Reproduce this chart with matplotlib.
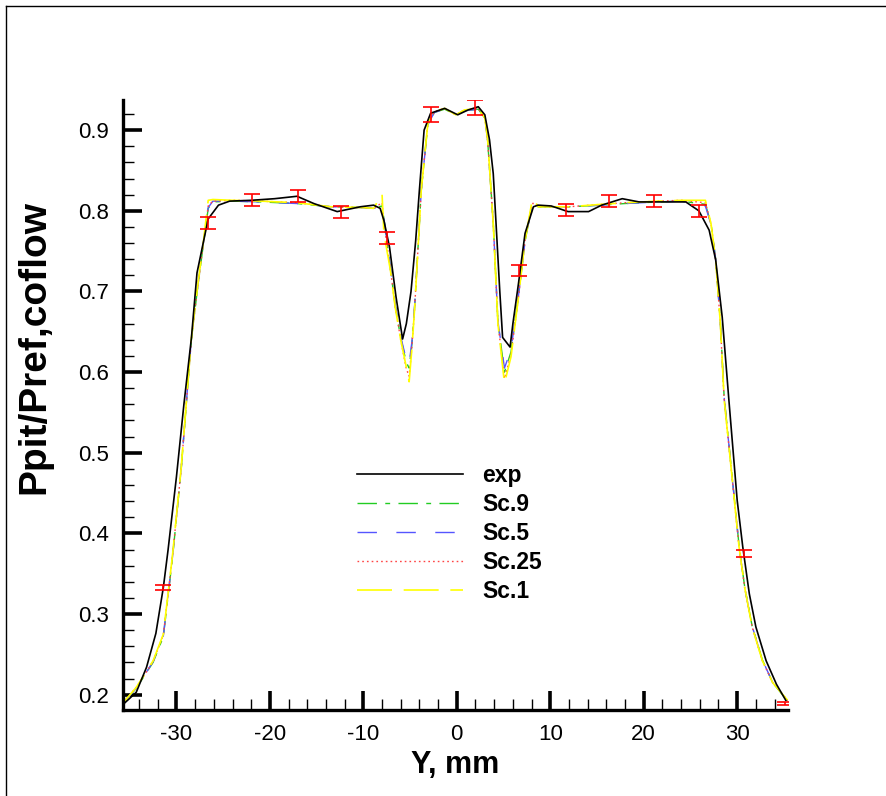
#! /usr/bin/env python3
import matplotlib
matplotlib.use('Agg')
import matplotlib.pyplot as plt
from matplotlib.lines import Line2D
from matplotlib.ticker import MultipleLocator, FormatStrFormatter

# experimental profile (smooth line)
x_exp = [-35.7, -34.3, -33.2, -32.2, -31.4, -30.9, -30.0, -29.2, -28.4, -27.8,
         -26.6, -25.5, -24.3, -22.0, -19.5, -17.1, -15.3, -12.8, -10.3, -8.9,
         -8.2, -7.8, -7.2, -6.5, -5.8, -5.4, -4.9, -4.4, -4.0, -3.5,
         -2.8, -1.3, 0.1, 1.2, 2.3, 3.0, 3.5, 3.9, 4.2, 4.6,
         4.9, 5.7, 6.0, 6.6, 7.3, 8.2, 8.7, 10.1, 11.9, 14.1,
         15.5, 17.7, 19.5, 21.6, 24.5, 25.9, 27.0, 27.7, 28.4, 29.1,
         30.0, 30.6, 31.3, 32.0, 33.1, 34.2, 35.2]
p_exp = [0.188, 0.203, 0.234, 0.276, 0.333, 0.379, 0.470, 0.560, 0.642, 0.723,
         0.790, 0.807, 0.812, 0.813, 0.815, 0.818, 0.809, 0.799, 0.805, 0.807,
         0.803, 0.788, 0.755, 0.693, 0.641, 0.660, 0.700, 0.763, 0.826, 0.900,
         0.921, 0.927, 0.919, 0.925, 0.929, 0.919, 0.888, 0.846, 0.784, 0.700,
         0.643, 0.631, 0.660, 0.710, 0.772, 0.805, 0.807, 0.806, 0.799, 0.799,
         0.807, 0.815, 0.811, 0.811, 0.811, 0.800, 0.776, 0.739, 0.668, 0.567,
         0.441, 0.383, 0.325, 0.284, 0.242, 0.213, 0.193]

# experimental points with error bars
x_err = [-31.4, -26.6, -21.9, -17.0, -12.4, -7.5, -2.8, 2.0, 6.7, 11.7,
         16.3, 21.1, 25.9, 30.7, 35.1]
p_err = [0.333, 0.785, 0.813, 0.818, 0.799, 0.766, 0.919, 0.928, 0.726, 0.801,
         0.812, 0.812, 0.800, 0.375, 0.189]
e_err = [0.003, 0.0072, 0.0075, 0.0077, 0.0075, 0.0077, 0.0093, 0.009, 0.0073, 0.0073,
         0.0077, 0.0077, 0.0073, 0.0042, 0.002]

# computed profiles
x_sim = [-35.7, -34.3, -32.5, -31.4, -30.9, -30.4, -29.5, -28.4, -27.8, -27.1,
         -26.6, -26.1, -24.0, -21.0, -17.1, -13.5, -10.0, -8.9, -8.0, -7.8,
         -7.1, -6.6, -6.0, -5.4, -5.1, -4.8, -4.5, -3.8, -3.1, -2.4,
         -1.3, -0.1, 0.8, 2.3, 3.0, 3.3, 3.9, 4.4, 5.1, 5.8,
         6.6, 7.3, 8.0, 8.2, 8.7, 10.0, 12.0, 15.5, 18.0, 21.6,
         24.0, 26.6, 27.2, 27.7, 28.2, 28.6, 29.7, 30.2, 30.8, 31.6,
         32.7, 33.8, 35.4]
p_sc9 = [0.190, 0.208, 0.240, 0.272, 0.322, 0.372, 0.478, 0.640, 0.698, 0.760,
         0.803, 0.811, 0.812, 0.811, 0.809, 0.805, 0.804, 0.803, 0.806, 0.790,
         0.728, 0.683, 0.642, 0.612, 0.605, 0.635, 0.683, 0.826, 0.907, 0.922,
         0.926, 0.919, 0.924, 0.926, 0.915, 0.887, 0.785, 0.662, 0.600, 0.625,
         0.694, 0.762, 0.804, 0.808, 0.805, 0.805, 0.805, 0.807, 0.809, 0.811,
         0.812, 0.808, 0.784, 0.740, 0.662, 0.570, 0.443, 0.385, 0.334, 0.285,
         0.243, 0.215, 0.192]
p_sc5 = [0.190, 0.208, 0.241, 0.273, 0.323, 0.373, 0.479, 0.641, 0.699, 0.761,
         0.804, 0.812, 0.812, 0.811, 0.809, 0.805, 0.804, 0.803, 0.806, 0.791,
         0.729, 0.684, 0.644, 0.615, 0.610, 0.638, 0.685, 0.826, 0.907, 0.922,
         0.926, 0.919, 0.924, 0.926, 0.915, 0.887, 0.785, 0.663, 0.605, 0.628,
         0.695, 0.762, 0.804, 0.808, 0.805, 0.805, 0.805, 0.807, 0.809, 0.811,
         0.812, 0.806, 0.783, 0.739, 0.661, 0.569, 0.442, 0.384, 0.333, 0.285,
         0.243, 0.215, 0.192]
p_sc25 = [0.190, 0.209, 0.241, 0.274, 0.324, 0.374, 0.479, 0.641, 0.699, 0.762,
          0.806, 0.812, 0.813, 0.812, 0.810, 0.805, 0.804, 0.803, 0.810, 0.785,
          0.727, 0.682, 0.640, 0.604, 0.595, 0.632, 0.682, 0.826, 0.908, 0.923,
          0.927, 0.919, 0.925, 0.927, 0.915, 0.888, 0.784, 0.661, 0.592, 0.622,
          0.693, 0.763, 0.806, 0.810, 0.805, 0.805, 0.805, 0.808, 0.810, 0.812,
          0.813, 0.810, 0.784, 0.739, 0.660, 0.567, 0.441, 0.383, 0.333, 0.284,
          0.242, 0.215, 0.193]
p_sc1 = [0.190, 0.209, 0.242, 0.275, 0.325, 0.375, 0.480, 0.642, 0.700, 0.763,
         0.813, 0.814, 0.813, 0.812, 0.810, 0.805, 0.804, 0.803, 0.821, 0.772,
         0.726, 0.681, 0.640, 0.606, 0.588, 0.630, 0.681, 0.826, 0.908, 0.923,
         0.927, 0.919, 0.925, 0.927, 0.915, 0.888, 0.784, 0.660, 0.586, 0.619,
         0.693, 0.763, 0.809, 0.815, 0.805, 0.805, 0.805, 0.808, 0.810, 0.812,
         0.813, 0.813, 0.784, 0.739, 0.660, 0.567, 0.441, 0.383, 0.333, 0.284,
         0.242, 0.215, 0.193]

labels = ['exp', 'Sc.9', 'Sc.5', 'Sc.25', 'Sc.1']

plt.rcParams['font.family'] = ['Liberation Sans', 'DejaVu Sans']
plt.rcParams['axes.unicode_minus'] = False

fig = plt.figure(figsize=(8.86, 7.96), dpi=100)
ax = fig.add_axes([0.139, 0.108, 0.750, 0.766])

# outer frame of the exported picture
fig.add_artist(Line2D([0.007, 0.007], [0.0, 0.993], color='black', lw=1.0))
fig.add_artist(Line2D([0.007, 0.999], [0.993, 0.993], color='black', lw=1.0))

ax.plot(x_sim, p_sc9, color='#22cc22', lw=1.0, dashes=(14, 6, 3.5, 6),
        label=labels[1], zorder=2)
ax.plot(x_sim, p_sc5, color='#5555ff', lw=1.0, dashes=(14, 14),
        label=labels[2], zorder=2)
ax.plot(x_sim, p_sc25, color='#ff4444', lw=1.0, dashes=(1.2, 2.2),
        label=labels[3], zorder=2)
ax.plot(x_sim, p_sc1, color='#ffff00', lw=1.2, dashes=(21, 7),
        label=labels[4], zorder=2)
ax.plot(x_exp, p_exp, color='black', lw=1.2, label=labels[0], zorder=3)
ax.errorbar(x_err, p_err, yerr=e_err, fmt='none', ecolor='red',
            elinewidth=1.2, capsize=6, capthick=1.2, zorder=4)

ax.set_xlim(-35.7, 35.4)
ax.set_ylim(0.181, 0.937)

for side in ['top', 'right']:
    ax.spines[side].set_visible(False)
for side in ['left', 'bottom']:
    ax.spines[side].set_linewidth(2.4)

ax.xaxis.set_major_locator(MultipleLocator(10))
ax.xaxis.set_minor_locator(MultipleLocator(2))
ax.yaxis.set_major_locator(MultipleLocator(0.1))
ax.yaxis.set_minor_locator(MultipleLocator(0.02))
ax.yaxis.set_major_formatter(FormatStrFormatter('%.1f'))
ax.tick_params(which='major', direction='in', length=14, width=2.6,
               labelsize=16, pad=10)
ax.tick_params(which='minor', direction='in', length=8, width=1.0)

ax.set_xlabel('Y, mm', fontsize=22, fontweight='bold', labelpad=4)
ax.set_ylabel('Ppit/Pref,coflow', fontsize=28, fontweight='bold')
ax.yaxis.set_label_coords(-0.106, 0.595)

handles, lbls = ax.get_legend_handles_labels()
order = [4, 0, 1, 2, 3]
ax.legend([handles[i] for i in order], [lbls[i] for i in order],
          loc='upper left', bbox_to_anchor=(0.352, 0.404), frameon=False,
          borderpad=0, borderaxespad=0, handlelength=4.63, handletextpad=0.83,
          labelspacing=0.26, prop={'size': 16.5, 'weight': 'bold'})

fig.savefig('out.png', dpi=100)
